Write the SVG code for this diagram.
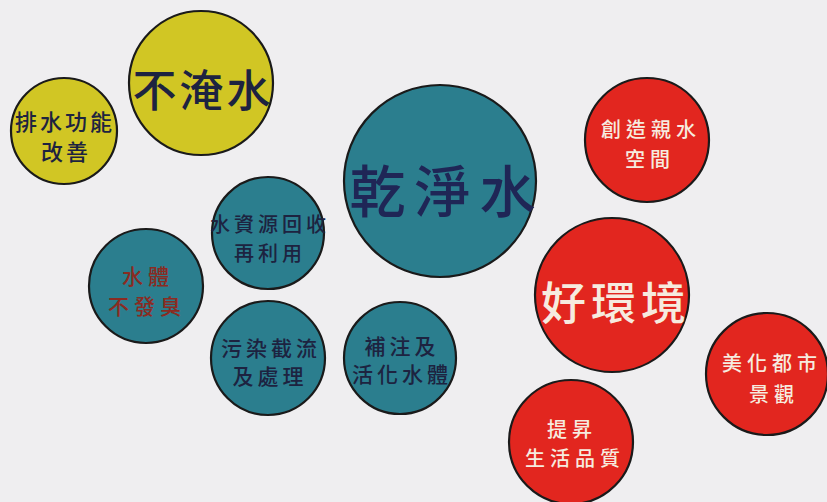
<svg xmlns="http://www.w3.org/2000/svg" width="827" height="502" viewBox="0 0 827 502">
<style>
.c{stroke:#1a1a1a;stroke-width:2.2}
.y{fill:#d1c624}
.t{fill:#2b7e8e}
.r{fill:#e2261f}
text{font-family:"Noto Sans CJK TC","Noto Sans CJK SC",sans-serif;text-anchor:middle;dominant-baseline:central;font-weight:500}
.dk{fill:#1d2340}
.nv{fill:#1f2656}
.br{fill:#8a2b22}
.wh{fill:#f6ebdf}
</style>
<rect width="827" height="502" fill="#efeef0"/>
<g id="buyanshui">
<circle class="c y" cx="201" cy="83" r="72"/>
<text class="dk" x="203" y="88" font-size="44" letter-spacing="3" font-weight="700">不淹水</text>
</g>
<g id="paishui">
<circle class="c y" cx="64" cy="131" r="53"/>
<text class="dk" font-size="22" letter-spacing="3"><tspan x="65" y="120">排水功能</tspan><tspan x="66" y="150">改善</tspan></text>
</g>
<g id="ganjingshui">
<circle class="c t" cx="440" cy="181" r="96"/>
<text class="nv" x="447" y="187" font-size="56" letter-spacing="9">乾淨水</text>
</g>
<g id="shuiziyuan">
<circle class="c t" cx="268" cy="233" r="56"/>
<text class="dk" font-size="20" letter-spacing="4"><tspan x="270" y="223">水資源回收</tspan><tspan x="270" y="252">再利用</tspan></text>
</g>
<g id="shuiti">
<circle class="c t" cx="146" cy="286" r="57"/>
<text class="br" font-size="21" letter-spacing="5"><tspan x="148" y="275">水體</tspan><tspan x="147" y="305">不發臭</tspan></text>
</g>
<g id="wuran">
<circle class="c t" cx="268" cy="358" r="57"/>
<text class="dk" font-size="21" letter-spacing="4"><tspan x="271" y="347">污染截流</tspan><tspan x="270" y="375">及處理</tspan></text>
</g>
<g id="buzhu">
<circle class="c t" cx="400" cy="358" r="56"/>
<text class="dk" font-size="21" letter-spacing="4"><tspan x="402" y="345">補注及</tspan><tspan x="402" y="373">活化水體</tspan></text>
</g>
<g id="chuangzao">
<circle class="c r" cx="647" cy="140" r="62"/>
<text class="wh" font-size="20" letter-spacing="5"><tspan x="651" y="128">創造親水</tspan><tspan x="650" y="158">空間</tspan></text>
</g>
<g id="haohuanjing">
<circle class="c r" cx="612" cy="295" r="77"/>
<text class="wh" x="616" y="300" font-size="45" letter-spacing="5">好環境</text>
</g>
<g id="meihua">
<circle class="c r" cx="767" cy="374" r="61"/>
<text class="wh" font-size="20" letter-spacing="5"><tspan x="772" y="362">美化都市</tspan><tspan x="774" y="393">景觀</tspan></text>
</g>
<g id="tisheng">
<circle class="c r" cx="571" cy="442" r="62"/>
<text class="wh" font-size="20" letter-spacing="5"><tspan x="572" y="428">提昇</tspan><tspan x="575" y="457">生活品質</tspan></text>
</g>
<g id="connectors"></g>
</svg>
